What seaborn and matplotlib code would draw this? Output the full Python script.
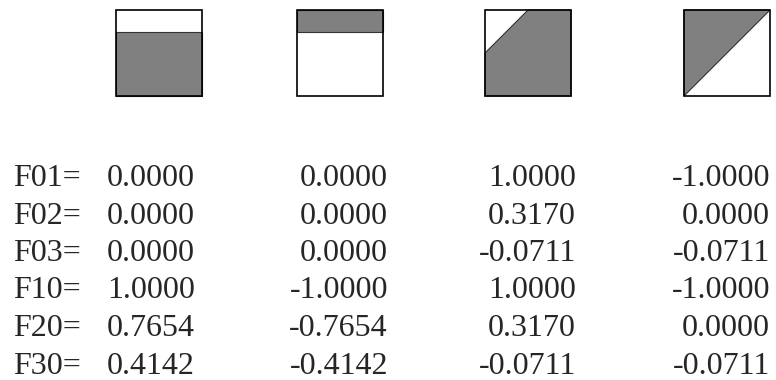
import seaborn as sns
import matplotlib.pyplot as plt
from matplotlib.patches import Polygon, Rectangle

sns.set_style('white')
plt.rcParams['font.family'] = ['Liberation Serif', 'DejaVu Serif']

# shaded regions of each basis square, in unit-square coords (0,0 = bottom-left)
shapes = [
    [(0, 0), (1, 0), (1, 0.75), (0, 0.75)],
    [(0, 0.75), (1, 0.75), (1, 1), (0, 1)],
    [(0, 0), (1, 0), (1, 1), (0.5, 1), (0, 0.5)],
    [(0, 0), (1, 1), (0, 1)],
]

labels = ['F01=', 'F02=', 'F03=', 'F10=', 'F20=', 'F30=']
col1 = [0.0000, 0.0000, 0.0000, 1.0000, 0.7654, 0.4142]
col2 = [0.0000, 0.0000, 0.0000, -1.0000, -0.7654, -0.4142]
col3 = [1.0000, 0.3170, -0.0711, 1.0000, 0.3170, -0.0711]
col4 = [-1.0000, 0.0000, -0.0711, -1.0000, 0.0000, -0.0711]

fig = plt.figure(figsize=(7.76, 3.8), dpi=100)
ax = fig.add_axes([0, 0, 1, 1])
ax.set_xlim(0, 776)
ax.set_ylim(380, 0)
ax.axis('off')

# square placement (pixels)
sq_left = [116, 297, 485, 684]
sq_top = 10
sq_size = 86

for x0, pts in zip(sq_left, shapes):
    poly = [(x0 + px * sq_size, sq_top + (1 - py) * sq_size) for px, py in pts]
    ax.add_patch(Polygon(poly, closed=True, facecolor='#808080',
                         edgecolor='#333333', linewidth=0.8))
    ax.add_patch(Rectangle((x0, sq_top), sq_size, sq_size, fill=False,
                           edgecolor='black', linewidth=1.2))

# text baselines
row_y = [186, 223.5, 261, 298.5, 336, 373.5]
col_x = [195, 388, 576, 770]
fs = 23

for i, lab in enumerate(labels):
    y = row_y[i]
    ax.text(13, y, lab, fontsize=fs, ha='left', va='baseline')
    for cx, col in zip(col_x, [col1, col2, col3, col4]):
        ax.text(cx, y, '%.4f' % col[i], fontsize=fs, ha='right', va='baseline')

plt.savefig('out.png', dpi=100)
